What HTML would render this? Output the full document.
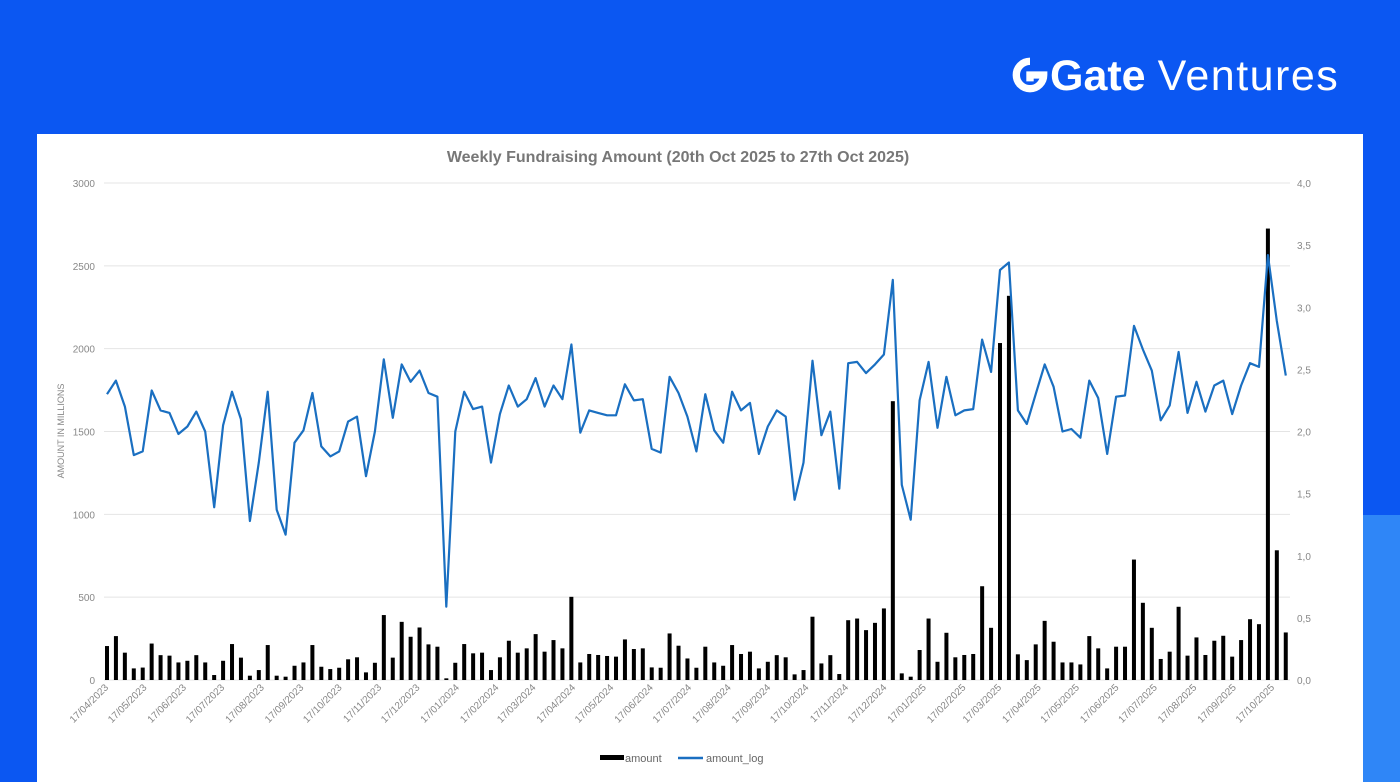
<!DOCTYPE html>
<html><head><meta charset="utf-8">
<style>
html,body{margin:0;padding:0;}
body{width:1400px;height:782px;background:#0b57f2;position:relative;overflow:hidden;font-family:"Liberation Sans",sans-serif;}
#accent{position:absolute;left:1363px;top:515px;width:37px;height:267px;background:#2f86f7;}
#card{position:absolute;left:37px;top:134px;width:1326px;height:648px;background:#fff;}
#logo{position:absolute;left:1010px;top:52px;color:#fff;font-size:43px;white-space:nowrap;}
#logo b{font-weight:bold;letter-spacing:0px;}
#logo span{letter-spacing:1.5px;}
</style></head>
<body>
<div id="accent"></div>
<div id="logo">
<svg width="40" height="36" viewBox="0 0 38 34" style="vertical-align:-3px"><path d="M19 4 A13 13 0 1 0 32 17 L19 17 L19 23" fill="none" stroke="#fff" stroke-width="7"/></svg><b>Gate</b> <span>Ventures</span></div>
<div id="card"></div>
<svg id="chart" width="1400" height="782" style="position:absolute;left:0;top:0">
<text x="678" y="162" text-anchor="middle" font-size="16" font-weight="bold" fill="#777">Weekly Fundraising Amount (20th Oct 2025 to 27th Oct 2025)</text>
<text transform="translate(64,431) rotate(-90)" text-anchor="middle" font-size="9" fill="#888">AMOUNT IN MILLIONS</text>
<g id="grid"></g><g id="bars"></g><g id="line"></g><g id="xlabels"></g>
<g>
<rect x="600" y="755" width="24" height="5" fill="#000"/>
<text x="625" y="762" font-size="11" fill="#666">amount</text>
<line x1="678" y1="758" x2="703" y2="758" stroke="#1a6fc1" stroke-width="2.5"/>
<text x="706" y="762" font-size="11" fill="#666">amount_log</text>
</g>
</svg>
<script>
const amount=[205,265,165,70,75,220,150,147,106,116,150,106,30,116,217,135,26,60,211,26,20,86,106,211,80,66,74,125,137,46,104,392,135,351,261,317,215,201,10,104,217,161,165,60,137,237,165,191,277,171,241,191,502,106,157,151,145,141,245,187,191,76,74,281,207,130,74,201,106,86,211,157,171,70,110,150,137,34,60,382,100,150,36,361,371,301,345,432,1683,40,20,181,371,110,285,137,151,157,566,315,2034,2319,155,120,215,357,231,106,106,94,265,191,70,201,201,727,466,315,127,171,442,147,257,151,237,267,141,241,367,337,2725,783,287];
const amountLog=[2.30,2.41,2.20,1.81,1.84,2.33,2.17,2.15,1.98,2.04,2.16,2.00,1.39,2.05,2.32,2.10,1.28,1.75,2.32,1.37,1.17,1.91,2.01,2.31,1.88,1.80,1.84,2.08,2.12,1.64,2.00,2.58,2.11,2.54,2.40,2.49,2.31,2.28,0.59,2.00,2.32,2.18,2.20,1.75,2.14,2.37,2.20,2.26,2.43,2.20,2.37,2.26,2.70,1.99,2.17,2.15,2.13,2.13,2.38,2.25,2.26,1.86,1.83,2.44,2.31,2.12,1.84,2.30,2.01,1.91,2.32,2.17,2.23,1.82,2.04,2.17,2.12,1.45,1.75,2.57,1.97,2.16,1.54,2.55,2.56,2.47,2.54,2.62,3.22,1.57,1.29,2.25,2.56,2.03,2.44,2.13,2.17,2.18,2.74,2.48,3.30,3.36,2.17,2.06,2.30,2.54,2.36,2.00,2.02,1.95,2.41,2.27,1.82,2.28,2.29,2.85,2.66,2.49,2.09,2.21,2.64,2.15,2.40,2.16,2.37,2.41,2.14,2.37,2.55,2.52,3.42,2.89,2.45];
const leftTicks=[0,500,1000,1500,2000,2500,3000];
const rightTicks=["0,0","0,5","1,0","1,5","2,0","2,5","3,0","3,5","4,0"];
const dateLabels=["17/04/2023","17/05/2023","17/06/2023","17/07/2023","17/08/2023","17/09/2023","17/10/2023","17/11/2023","17/12/2023","17/01/2024","17/02/2024","17/03/2024","17/04/2024","17/05/2024","17/06/2024","17/07/2024","17/08/2024","17/09/2024","17/10/2024","17/11/2024","17/12/2024","17/01/2025","17/02/2025","17/03/2025","17/04/2025","17/05/2025","17/06/2025","17/07/2025","17/08/2025","17/09/2025","17/10/2025"];
const NS="http://www.w3.org/2000/svg";
const X0=107,DX=8.93,Y0=680,YT=183;
function xIdx(i){return X0+i*DX;}
function yL(v){return Y0-(v/3000)*(Y0-YT);}
function yR(v){return Y0-(v/4)*(Y0-YT);}
function mk(tag,attrs,parent){const e=document.createElementNS(NS,tag);for(const k in attrs)e.setAttribute(k,attrs[k]);parent.appendChild(e);return e;}
const grid=document.getElementById('grid');
leftTicks.forEach(v=>{
 const l=mk('line',{x1:104,x2:1290,y1:yL(v),y2:yL(v),stroke:'#e4e4e4','stroke-width':1},grid);
 
 
 const t=mk('text',{x:95,y:yL(v)+4,'text-anchor':'end','font-size':10,fill:'#888'},grid);
 t.textContent=v;
 
 
});
rightTicks.forEach((s,i)=>{
 const t=mk('text',{x:1297,y:yR(i*0.5)+4,'font-size':10,fill:'#888'},grid);
 t.textContent=s;
 
 
});
const bars=document.getElementById('bars');
amount.forEach((v,i)=>{
 const r=mk('rect',{x:xIdx(i)-2,y:yL(v),width:4,height:Y0-yL(v),fill:'#000'},bars);
 
 
});
const pts=amountLog.map((v,i)=>xIdx(i).toFixed(1)+','+yR(v).toFixed(1)).join(' ');
const pl=mk('polyline',{points:pts,fill:'none',stroke:'#1a6fc1','stroke-width':2.2,'stroke-linejoin':'round'},document.getElementById('line'));


const xl=document.getElementById('xlabels');
const start=Date.UTC(2023,3,17);
dateLabels.forEach(s=>{
 const p=s.split('/');
 const d=Date.UTC(+p[2],+p[1]-1,+p[0]);
 const idx=(d-start)/(7*86400000);
 const x=xIdx(idx);
 const t=mk('text',{transform:`translate(${x+2},${Y0+8}) rotate(-45)`,'text-anchor':'end','font-size':10,fill:'#888'},xl);
 t.textContent=s;
 
 
});
</script>
</body></html>
